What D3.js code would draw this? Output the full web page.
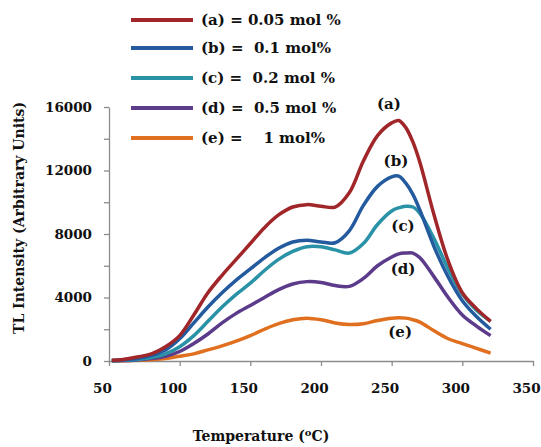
<!DOCTYPE html>
<html>
<head>
  <title>TL glow curves</title>
  <script src="https://d3js.org/d3.v7.min.js"></script>
  <style>
    body { margin: 0; background: #fff; }
    text { font-family: "DejaVu Serif", serif; font-weight: bold; fill: #111; }
  </style>
</head>
<body>
  <svg id="chart"></svg>
  <script>
    // Temperature (C) readings shared by every curve
    const temps = [52, 60, 70, 80, 90, 100, 110, 120, 130, 140, 150, 160, 170, 180, 190,
                   200, 210, 220, 230, 240, 250, 255, 260, 265, 270, 280, 290, 300, 310, 320];

    // TL intensity for each concentration
    const seriesA = [50, 100, 250, 450, 900, 1600, 2900, 4300, 5400, 6400, 7400, 8400, 9200, 9700, 9850,
                     9750, 9700, 10600, 12600, 14200, 15000, 15150, 14700, 13800, 12500, 9200, 6300, 4300, 3300, 2500];
    const seriesB = [30, 60, 150, 350, 700, 1400, 2400, 3400, 4300, 5100, 5800, 6500, 7100, 7500, 7600,
                     7500, 7450, 8200, 9800, 11000, 11600, 11650, 11200, 10500, 9500, 7200, 5300, 3800, 2800, 2000];
    const seriesC = [20, 40, 100, 220, 450, 900, 1600, 2500, 3400, 4200, 4900, 5700, 6400, 6900, 7200,
                     7200, 7000, 6800, 7400, 8600, 9450, 9650, 9750, 9700, 9300, 7700, 5800, 4200, 3200, 2500];
    const seriesD = [15, 30, 70, 150, 300, 600, 1100, 1700, 2400, 3000, 3500, 4000, 4500, 4850, 5000,
                     4950, 4750, 4700, 5200, 6000, 6550, 6750, 6800, 6800, 6500, 5300, 4000, 2900, 2200, 1600];
    const seriesE = [10, 20, 40, 80, 150, 300, 450, 700, 950, 1250, 1600, 2000, 2350, 2600, 2700,
                     2600, 2400, 2300, 2350, 2550, 2700, 2720, 2700, 2600, 2450, 1900, 1400, 1100, 800, 500];

    const legendLabels = ["(a) = 0.05 mol %", "(b) =  0.1 mol%", "(c) =  0.2 mol %", "(d) =  0.5 mol %", "(e) =    1 mol%"];
    const curveTags = ["(a)", "(b)", "(c)", "(d)", "(e)"];
    const colors = ["#A0262A", "#245A9E", "#2992A6", "#5B3B8A", "#E0701F"];

    const xTicks = [50, 100, 150, 200, 250, 300, 350];
    const yTicks = [0, 2000, 4000, 6000, 8000, 10000, 12000, 14000, 16000];

    const allSeries = [seriesA, seriesB, seriesC, seriesD, seriesE];

    const width = 541, height = 447;

    const svg = d3.select("#chart")
      .attr("width", width)
      .attr("height", height);

    const xScale = d3.scaleLinear().domain([50, 350]).range([109, 533]);
    const yScale = d3.scaleLinear().domain([0, 16000]).range([361, 107]);

    // axes
    const xAxis = d3.axisBottom(xScale)
      .tickValues(xTicks)
      .tickSize(5)
      .tickSizeOuter(0)
      .tickPadding(17)
      .tickFormat(d3.format("d"));

    const yAxis = d3.axisLeft(yScale)
      .tickValues(yTicks)
      .tickSize(5)
      .tickSizeOuter(0)
      .tickPadding(12)
      .tickFormat(d => d % 4000 === 0 ? d : "");

    const gx = svg.append("g")
      .attr("transform", `translate(0, ${yScale(0)})`)
      .call(xAxis);

    const gy = svg.append("g")
      .attr("transform", `translate(${xScale(50)}, 0)`)
      .call(yAxis);

    [gx, gy].forEach(g => {
      g.selectAll("path, line").attr("stroke", "#8c8c8c").attr("stroke-width", 1.3);
      g.selectAll("text")
        .style("font-family", "DejaVu Serif")
        .style("font-weight", "bold")
        .style("font-size", "13.5px")
        .attr("fill", "#111");
    });
    // the x labels sit a little left of their ticks in the original
    gx.selectAll("text").attr("x", -7);

    // curves
    const line = d3.line()
      .x((d, i) => xScale(temps[i]))
      .y(d => yScale(d))
      .curve(d3.curveCatmullRom.alpha(0.5));

    // draw orange first so that red ends up on top
    allSeries.slice().reverse().forEach((s, j) => {
      const i = allSeries.length - 1 - j;
      svg.append("path")
        .datum(s)
        .attr("d", line)
        .attr("fill", "none")
        .attr("stroke", colors[i])
        .attr("stroke-width", 3.5)
        .attr("stroke-linejoin", "round");
    });

    // curve tags next to the peaks
    const tagPos = [[248, 15900], [253, 12300], [258, 8200], [258, 5500], [256, 1500]];
    svg.selectAll(".tag")
      .data(curveTags)
      .enter().append("text")
      .attr("class", "tag")
      .attr("x", (d, i) => xScale(tagPos[i][0]))
      .attr("y", (d, i) => yScale(tagPos[i][1]))
      .attr("text-anchor", "middle")
      .style("font-size", "15px")
      .text(d => d);

    // legend
    const legendY = [20, 48, 78, 108, 138];
    const legend = svg.selectAll(".legend")
      .data(legendLabels)
      .enter().append("g")
      .attr("class", "legend")
      .attr("transform", (d, i) => `translate(0, ${legendY[i]})`);

    legend.append("line")
      .attr("x1", 131)
      .attr("x2", 193)
      .attr("stroke", (d, i) => colors[i])
      .attr("stroke-width", 4);

    legend.append("text")
      .attr("x", 201)
      .attr("dy", "0.36em")
      .style("font-size", "15px")
      .style("white-space", "pre")
      .text(d => d);

    // axis titles
    svg.append("text")
      .attr("transform", "translate(24, 218) rotate(-90)")
      .attr("text-anchor", "middle")
      .style("font-size", "14px")
      .text("TL Intensity (Arbitrary Units)");

    const xTitle = svg.append("text")
      .attr("x", 261)
      .attr("y", 441)
      .attr("text-anchor", "middle")
      .style("font-size", "14px");
    xTitle.append("tspan").text("Temperature (");
    xTitle.append("tspan").attr("dy", -5).style("font-size", "10px").text("o");
    xTitle.append("tspan").attr("dy", 5).text("C)");
  </script>
</body>
</html>
